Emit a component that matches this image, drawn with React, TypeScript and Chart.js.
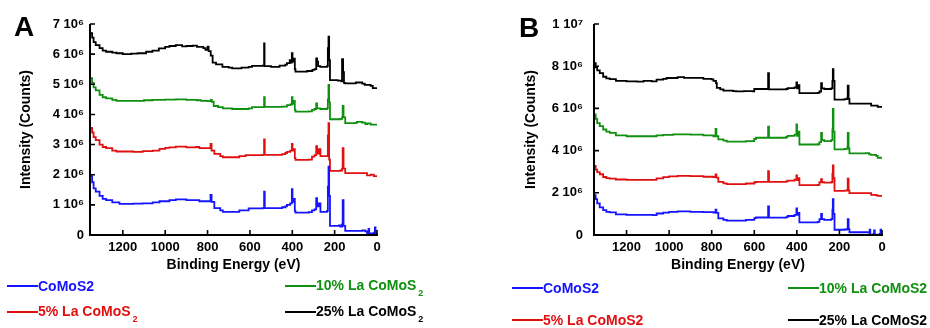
import React, { useEffect, useRef } from "react";
import { Chart, registerables } from "chart.js";

Chart.register(...registerables);

// ---------- DATA (binding energy in eV, intensity in 10^6 counts) ----------
const seriesNames = ["CoMoS2", "5% La CoMoS2", "10% La CoMoS2", "25% La CoMoS2"];
const seriesColors = ["#1414ff", "#e01010", "#109010", "#000000"];

const xTickValues = [0, 200, 400, 600, 800, 1000, 1200];

// Panel A
const yTicksA = { max: 7, step: 1 };
const blueA: [number, number][] = [[1352,1.95],[1345,1.75],[1338,1.55],[1328,1.44],[1310,1.3],[1295,1.2],[1279,1.16],[1250,1.08],[1216,1.03],[1150,1.04],[1106,1.05],[1059,1.08],[1027,1.12],[980,1.16],[950,1.18],[900,1.16],[854,1.16],[839,1.12],[800,1.12],[786,1.33],[781,1.1],[768,0.89],[740,0.82],[728,0.77],[684,0.77],[650,0.82],[606,0.88],[540,0.89],[533,1.44],[530,0.89],[448,0.92],[433,0.95],[425,1.0],[410,1.05],[402,1.52],[399,1.1],[393,1.2],[388,0.8],[385,0.74],[322,0.76],[307,0.82],[295,0.85],[287,1.22],[283,0.95],[275,1.05],[267,0.77],[236,0.8],[232,1.6],[229,2.27],[226,1.3],[222,0.3],[180,0.32],[173,0.28],[165,0.35],[162,1.16],[158,0.3],[150,0.14],[70,0.15],[55,0.12],[47,0.05],[40,0.2],[37,0.05],[15,0.08],[10,0.25],[7,0.05],[0,0.1]];
const redA: [number, number][] = [[1352,3.55],[1345,3.4],[1338,3.25],[1328,3.15],[1310,3.0],[1295,2.92],[1279,2.88],[1250,2.8],[1230,2.77],[1150,2.76],[1106,2.78],[1059,2.8],[1027,2.86],[1000,2.89],[980,2.91],[950,2.93],[900,2.91],[854,2.92],[839,2.88],[800,2.88],[786,3.02],[781,2.8],[768,2.69],[740,2.62],[728,2.58],[684,2.58],[650,2.62],[620,2.65],[540,2.66],[533,3.17],[530,2.66],[448,2.68],[433,2.72],[425,2.76],[410,2.8],[402,3.02],[399,2.8],[393,2.85],[388,2.55],[385,2.49],[322,2.5],[307,2.6],[295,2.65],[287,2.95],[283,2.7],[275,2.85],[267,2.62],[236,2.62],[232,3.3],[229,3.71],[226,2.5],[222,2.13],[173,2.14],[165,2.2],[162,2.88],[158,2.2],[150,2.05],[60,2.05],[47,1.98],[30,2.0],[15,1.95],[0,1.96]];
const greenA: [number, number][] = [[1352,5.2],[1345,5.05],[1338,4.9],[1328,4.8],[1310,4.65],[1295,4.57],[1279,4.53],[1250,4.48],[1230,4.45],[1150,4.45],[1100,4.47],[1060,4.48],[1000,4.49],[950,4.5],[900,4.48],[850,4.47],[830,4.45],[800,4.44],[785,4.48],[780,4.42],[771,4.28],[750,4.24],[728,4.2],[684,4.18],[606,4.2],[590,4.24],[540,4.24],[533,4.57],[530,4.25],[448,4.26],[425,4.31],[410,4.33],[402,4.57],[399,4.35],[393,4.45],[388,4.15],[385,4.09],[322,4.1],[307,4.15],[295,4.18],[287,4.37],[283,4.2],[267,4.18],[236,4.2],[232,4.5],[229,4.98],[226,4.4],[222,3.84],[173,3.85],[165,3.9],[162,4.28],[158,3.9],[150,3.71],[102,3.72],[95,3.75],[70,3.73],[55,3.68],[45,3.7],[30,3.66],[0,3.65]];
const blackA: [number, number][] = [[1352,6.7],[1345,6.55],[1338,6.4],[1328,6.3],[1310,6.2],[1295,6.12],[1279,6.08],[1250,6.05],[1230,6.03],[1200,6.0],[1160,6.02],[1130,6.03],[1090,6.08],[1060,6.12],[1030,6.19],[1000,6.24],[980,6.27],[950,6.3],[920,6.26],[900,6.27],[870,6.28],[850,6.24],[820,6.2],[810,6.14],[800,6.25],[795,6.1],[785,5.95],[776,5.72],[760,5.66],[730,5.58],[700,5.55],[684,5.53],[640,5.55],[606,5.58],[590,5.61],[540,5.62],[533,6.36],[531,5.6],[500,5.58],[460,5.62],[433,5.65],[425,5.7],[412,5.8],[408,5.72],[402,6.03],[399,5.75],[393,5.85],[388,5.5],[385,5.42],[330,5.44],[305,5.48],[295,5.5],[287,5.86],[283,5.75],[278,5.6],[268,5.58],[236,5.6],[232,6.2],[229,6.58],[226,5.8],[222,5.14],[185,5.12],[168,5.1],[165,5.83],[160,5.4],[156,5.05],[150,5.03],[110,5.03],[100,5.06],[70,5.02],[58,4.98],[30,4.95],[20,4.87],[0,4.85]];

// Panel B
const yTicksB = { max: 10, step: 2 };
const blueB: [number, number][] = [[1352,1.89],[1345,1.7],[1338,1.5],[1326,1.31],[1310,1.18],[1295,1.1],[1279,1.07],[1250,0.98],[1200,0.95],[1075,0.94],[1059,1.02],[1028,1.06],[1000,1.1],[960,1.12],[900,1.1],[855,1.1],[839,1.08],[792,1.06],[782,1.2],[778,1.05],[769,0.79],[745,0.72],[729,0.68],[686,0.68],[639,0.72],[600,0.8],[592,0.83],[545,0.83],[535,1.35],[531,0.82],[450,0.85],[443,0.9],[411,0.95],[402,1.26],[399,0.95],[394,1.05],[388,0.6],[302,0.62],[294,0.75],[286,1.0],[282,0.75],[271,0.72],[239,0.75],[233,1.2],[231,1.7],[228,1.0],[223,0.25],[176,0.26],[163,0.3],[161,0.75],[157,0.28],[153,0.13],[75,0.13],[60,0.1],[58,0.25],[55,0.02],[40,0.05],[37,0.22],[34,0.02],[10,0.05],[7,0.25],[4,0.02],[0,0.05]];
const redB: [number, number][] = [[1352,3.27],[1345,3.1],[1338,2.98],[1326,2.88],[1310,2.75],[1295,2.7],[1279,2.67],[1250,2.63],[1200,2.61],[1075,2.61],[1059,2.68],[1028,2.74],[1000,2.78],[960,2.8],[900,2.79],[855,2.79],[839,2.76],[792,2.75],[782,2.87],[778,2.72],[769,2.52],[745,2.45],[729,2.41],[686,2.41],[639,2.44],[600,2.5],[592,2.52],[545,2.52],[535,3.03],[531,2.52],[450,2.54],[443,2.58],[411,2.62],[402,2.83],[399,2.6],[394,2.7],[388,2.36],[302,2.38],[294,2.5],[286,2.65],[282,2.5],[271,2.48],[239,2.5],[233,2.9],[231,3.3],[228,2.7],[223,2.09],[176,2.1],[163,2.14],[161,2.67],[157,2.1],[153,1.98],[59,1.98],[51,1.9],[28,1.88],[20,1.85],[0,1.85]];
const greenB: [number, number][] = [[1352,5.71],[1345,5.5],[1338,5.3],[1326,5.16],[1310,5.0],[1295,4.9],[1279,4.84],[1250,4.72],[1200,4.68],[1075,4.68],[1059,4.72],[1028,4.75],[980,4.77],[900,4.76],[855,4.76],[839,4.72],[792,4.68],[782,5.03],[778,4.68],[769,4.53],[745,4.47],[729,4.43],[686,4.43],[639,4.45],[600,4.55],[592,4.61],[545,4.61],[535,5.13],[531,4.61],[450,4.65],[443,4.7],[411,4.76],[402,5.24],[399,4.7],[394,4.9],[388,4.29],[302,4.3],[294,4.4],[286,4.84],[282,4.5],[271,4.45],[239,4.5],[233,5.0],[231,5.98],[228,4.9],[223,4.06],[176,4.08],[163,4.15],[161,4.84],[157,4.1],[153,3.87],[75,3.88],[60,3.82],[51,3.8],[28,3.75],[20,3.66],[0,3.66]];
const blackB: [number, number][] = [[1352,8.15],[1345,7.95],[1338,7.8],[1326,7.67],[1310,7.5],[1295,7.42],[1279,7.39],[1250,7.3],[1200,7.28],[1150,7.27],[1120,7.3],[1082,7.28],[1059,7.36],[1028,7.4],[1012,7.44],[960,7.48],[930,7.45],[900,7.45],[855,7.45],[839,7.4],[800,7.38],[792,7.3],[780,7.2],[776,6.97],[760,6.9],[745,6.84],[700,6.82],[686,6.81],[650,6.82],[607,6.81],[600,6.92],[545,6.92],[535,7.67],[531,6.9],[450,6.92],[443,6.96],[411,7.0],[402,7.23],[399,6.95],[394,7.1],[388,6.72],[302,6.74],[294,6.8],[286,7.2],[282,6.95],[271,6.92],[239,6.95],[233,7.3],[231,7.86],[228,7.3],[223,6.42],[176,6.44],[163,6.5],[161,7.08],[157,6.45],[153,6.23],[59,6.23],[51,6.13],[28,6.13],[20,6.07],[0,6.07]];

const FONT = "'Liberation Sans', Arial, Helvetica, sans-serif";

const inwardAxes = {
  id: "inwardAxes",
  afterDraw(chart: any) {
    const { ctx, chartArea, scales } = chart;
    const { left, right, top, bottom } = chartArea;
    const xs = scales.x;
    const ys = scales.y;
    ctx.save();
    ctx.strokeStyle = "#000";
    ctx.lineWidth = 2;
    ctx.beginPath();
    ctx.moveTo(left, top);
    ctx.lineTo(left, bottom);
    ctx.lineTo(right + 1, bottom);
    ctx.stroke();
    ctx.lineWidth = 1.6;
    ctx.beginPath();
    xs.ticks.forEach((t: any) => {
      const px = xs.getPixelForValue(t.value);
      ctx.moveTo(px, bottom);
      ctx.lineTo(px, bottom - 5);
    });
    ys.ticks.forEach((t: any) => {
      const py = ys.getPixelForValue(t.value);
      ctx.moveTo(left, py);
      ctx.lineTo(left + 5, py);
    });
    ctx.stroke();
    ctx.restore();
  },
};

type PanelProps = {
  left: number;
  data: [number, number][][];
  xMax: number;
  yMax: number;
  yStep: number;
  yTickLabel: (v: number) => string;
  yAxisWidth: number;
  yLabelPad: number;
  yTitlePad: number;
  rightPad: number;
};

function Panel(p: PanelProps) {
  const ref = useRef<HTMLCanvasElement | null>(null);
  useEffect(() => {
    if (!ref.current) return;
    const chart = new Chart(ref.current, {
      type: "line",
      data: {
        datasets: p.data.map((arr, i) => ({
          label: seriesNames[i],
          data: arr.map(([x, y]) => ({ x, y })),
          borderColor: seriesColors[i],
          backgroundColor: seriesColors[i],
          borderWidth: 1.8,
          pointRadius: 0,
          stepped: true,
          fill: false,
        })),
      },
      options: {
        responsive: false,
        animation: false,
        events: [],
        layout: { padding: { top: 24, right: p.rightPad, left: 0, bottom: 0 } },
        plugins: { legend: { display: false }, tooltip: { enabled: false } },
        scales: {
          x: {
            type: "linear",
            reverse: true,
            min: 0,
            max: p.xMax,
            afterBuildTicks: (s: any) => {
              s.ticks = xTickValues.map((v) => ({ value: v }));
            },
            afterFit: (s: any) => { s.height = 45; },
            grid: { display: false, drawTicks: false },
            border: { display: false },
            ticks: {
              padding: 5,
              color: "#000",
              font: { family: FONT, size: 13, weight: "bold" },
              maxRotation: 0,
              autoSkip: false,
              callback: (v: any) => String(v),
            },
            title: {
              display: true,
              text: "Binding Energy (eV)",
              color: "#000",
              font: { family: FONT, size: 14, weight: "bold" },
              padding: { top: 0, bottom: 6 },
            },
          },
          y: {
            type: "linear",
            min: 0,
            max: p.yMax,
            afterFit: (s: any) => { s.width = p.yAxisWidth; },
            grid: { display: false, drawTicks: false },
            border: { display: false },
            ticks: {
              stepSize: p.yStep,
              padding: p.yLabelPad,
              color: "#000",
              font: { family: FONT, size: 13, weight: "bold" },
              callback: (v: any) => p.yTickLabel(Number(v)),
            },
            title: {
              display: true,
              text: "Intensity (Counts)",
              color: "#000",
              font: { family: FONT, size: 14, weight: "bold" },
              padding: { top: p.yTitlePad, bottom: 0 },
            },
          },
        },
      },
      plugins: [inwardAxes],
    } as any);
    return () => chart.destroy();
  }, []);
  return (
    <canvas
      ref={ref}
      width={400}
      height={280}
      style={{ position: "absolute", left: p.left, top: 0, width: 400, height: 280 }}
    />
  );
}

type LegendItemProps = { x: number; y: number; color: string; children: React.ReactNode };
function LegendItem({ x, y, color, children }: LegendItemProps) {
  return (
    <div
      style={{
        position: "absolute",
        left: x,
        top: y - 9,
        height: 18,
        display: "flex",
        alignItems: "center",
        whiteSpace: "nowrap",
        color,
        fontFamily: FONT,
        fontWeight: "bold",
        fontSize: 14,
      }}
    >
      <div style={{ width: 31, height: 2, background: color }} />
      <span style={{ lineHeight: "18px" }}>{children}</span>
    </div>
  );
}

const Sub = ({ children }: { children: React.ReactNode }) => (
  <span style={{ fontSize: 9, position: "relative", top: 6, marginLeft: 2 }}>{children}</span>
);

export default function App() {
  return (
    <div
      style={{
        position: "fixed",
        left: 0,
        top: 0,
        width: 930,
        height: 328,
        background: "#fff",
        overflow: "hidden",
        fontFamily: FONT,
      }}
    >
      <Panel
        left={0}
        data={[blueA, redA, greenA, blackA]}
        xMax={1355}
        yMax={yTicksA.max}
        yStep={yTicksA.step}
        yTickLabel={(v) => (v === 0 ? "0" : `${v} 10\u2076`)}
        yAxisWidth={90}
        yLabelPad={6}
        yTitlePad={18}
        rightPad={23}
      />
      <Panel
        left={500}
        data={[blueB, redB, greenB, blackB]}
        xMax={1353}
        yMax={yTicksB.max}
        yStep={yTicksB.step}
        yTickLabel={(v) => (v === 0 ? "0" : v === 10 ? "1 10\u2077" : `${v} 10\u2076`)}
        yAxisWidth={94}
        yLabelPad={11}
        yTitlePad={23}
        rightPad={18}
      />
      <div style={{ position: "absolute", left: 14, top: 13, fontSize: 28, lineHeight: "28px", fontWeight: "bold", color: "#000" }}>A</div>
      <div style={{ position: "absolute", left: 519, top: 14, fontSize: 28, lineHeight: "28px", fontWeight: "bold", color: "#000" }}>B</div>

      <LegendItem x={7} y={286} color={seriesColors[0]}>CoMoS2</LegendItem>
      <LegendItem x={7} y={312} color={seriesColors[1]}>5% La CoMoS<Sub>2</Sub></LegendItem>
      <LegendItem x={285} y={286} color={seriesColors[2]}>10% La CoMoS<Sub>2</Sub></LegendItem>
      <LegendItem x={285} y={312} color={seriesColors[3]}>25% La CoMoS<Sub>2</Sub></LegendItem>

      <LegendItem x={512} y={288} color={seriesColors[0]}>CoMoS2</LegendItem>
      <LegendItem x={512} y={320} color={seriesColors[1]}>5% La CoMoS2</LegendItem>
      <LegendItem x={788} y={288} color={seriesColors[2]}>10% La CoMoS2</LegendItem>
      <LegendItem x={788} y={320} color={seriesColors[3]}>25% La CoMoS2</LegendItem>
    </div>
  );
}
